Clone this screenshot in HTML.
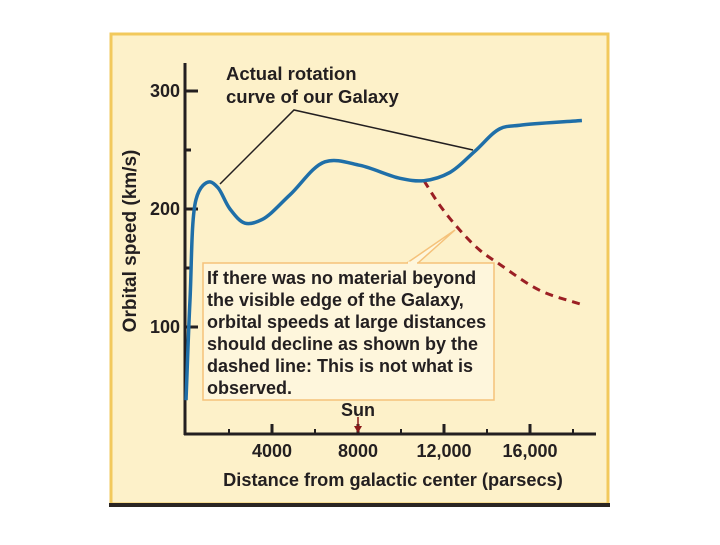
<!DOCTYPE html>
<html><head><meta charset="utf-8"><style>
body{margin:0;width:720px;height:540px;background:#fff;overflow:hidden;font-family:"Liberation Sans",sans-serif}
</style></head><body>
<svg width="720" height="540" viewBox="0 0 720 540">
<rect x="111" y="34" width="497" height="470" fill="#fdf1c9" stroke="#f2c95c" stroke-width="3"/>
<line x1="109" y1="505" x2="610" y2="505" stroke="#2a2522" stroke-width="4"/>
<g id="axes" stroke="#231f20" stroke-width="3" fill="none"></g>
<g id="labels" font-weight="bold" fill="#231f20" font-size="18"></g>
<g id="series"></g>
<g>
<polyline points="407,263 455,230 418,263" fill="#fef6dc" stroke="#f5c27a" stroke-width="1.5"/>
<rect x="203" y="263" width="291" height="137" fill="#fef6dc" stroke="#f5c27a" stroke-width="1.5"/>
<line x1="408" y1="263" x2="417" y2="263" stroke="#fef6dc" stroke-width="3"/>
<text font-weight="bold" font-size="18" fill="#231f20">
<tspan x="207" y="284">If there was no material beyond</tspan>
<tspan x="207" y="306">the visible edge of the Galaxy,</tspan>
<tspan x="207" y="328">orbital speeds at large distances</tspan>
<tspan x="207" y="350">should  decline as shown by the</tspan>
<tspan x="207" y="372">dashed line: This is not what is</tspan>
<tspan x="207" y="394">observed.</tspan></text>
</g>
<g>
<polyline points="220,184 294,110 473,150" fill="none" stroke="#231f20" stroke-width="1.5"/>
<text font-weight="bold" font-size="18.5" fill="#231f20"><tspan x="226" y="80">Actual rotation</tspan><tspan x="226" y="103">curve of our Galaxy</tspan></text>
</g>
<g>
<text x="358" y="416" text-anchor="middle" font-weight="bold" font-size="18" fill="#231f20">Sun</text>
<line x1="358" y1="417" x2="358" y2="430" stroke="#8b1a1a" stroke-width="1.5"/>
<polygon points="354,426 362,426 358,433" fill="#8b1a1a"/>
</g>
</svg>
<script>
const speedTicks=[100,200,300];
const speedMinorTicks=[150,250];
const distTicks=[4000,8000,12000,16000];
const distTickLabels=["4000","8000","12,000","16,000"];
const distMinorTicks=[2000,6000,10000,14000,18000];
const obsDist=[0,186,465,790,1116,1488,2046,2744,3534,4836,6464,8091,9951,11067,12276,13439,14601,15531,18414];
const obsSpeed=[38,123,208,220,223,218,200,188,191,212,240,237,226,224,231,249,268,271,275];
const keplerDist=[11067,11811,12741,13671,14601,16461,18414];
const keplerSpeed=[224,203,182,165,153,131,119];

const NS="http://www.w3.org/2000/svg";
const X=d=>186+d*86/4000;
const Y=v=>445-v*1.18;
function mk(tag,attrs,parent){const e=document.createElementNS(NS,tag);for(const k in attrs)e.setAttribute(k,attrs[k]);parent.appendChild(e);return e;}
const axes=document.getElementById('axes'),labels=document.getElementById('labels'),series=document.getElementById('series');

let a=mk('line',{x1:185,y1:63,x2:185,y2:435},axes);


a=mk('line',{x1:184,y1:434,x2:596,y2:434},axes);


speedTicks.forEach(v=>{
 const t=mk('line',{x1:185,y1:Y(v),x2:198,y2:Y(v)},axes);
 
 
 const l=mk('text',{x:180,y:Y(v)+6,'text-anchor':'end'},labels);l.textContent=v;
 
 
});
speedMinorTicks.forEach(v=>{
 const t=mk('line',{x1:185,y1:Y(v),x2:191,y2:Y(v)},axes);
 
 
});
distTicks.forEach((d,i)=>{
 const t=mk('line',{x1:X(d),y1:434,x2:X(d),y2:424},axes);
 
 
 const l=mk('text',{x:X(d),y:457,'text-anchor':'middle'},labels);l.textContent=distTickLabels[i];
 
 
});
distMinorTicks.forEach(d=>{
 const t=mk('line',{x1:X(d),y1:434,x2:X(d),y2:429,'stroke-width':2},axes);
 
 
});
let xt=mk('text',{x:393,y:486,'text-anchor':'middle','font-size':18.2},labels);xt.textContent='Distance from galactic center (parsecs)';


let yt=mk('text',{x:0,y:0,'text-anchor':'middle','font-size':19,transform:'translate(136,241) rotate(-90)'},labels);yt.textContent='Orbital speed (km/s)';



function smooth(ds,vs){
 const p=ds.map((d,i)=>[X(d),Y(vs[i])]);
 const dist=(a,b)=>Math.max(1e-3,Math.hypot(a[0]-b[0],a[1]-b[1]));
 let s=`M${p[0][0]},${p[0][1]}`;
 for(let i=0;i<p.length-1;i++){
  const p1=p[i],p2=p[i+1];
  const p0=i>0?p[i-1]:[2*p1[0]-p2[0],2*p1[1]-p2[1]];
  const p3=i+2<p.length?p[i+2]:[2*p2[0]-p1[0],2*p2[1]-p1[1]];
  const d1=Math.sqrt(dist(p0,p1)),d2=Math.sqrt(dist(p1,p2)),d3=Math.sqrt(dist(p2,p3));
  const c1=[0,1].map(j=>(d1*d1*p2[j]-d2*d2*p0[j]+(2*d1*d1+3*d1*d2+d2*d2)*p1[j])/(3*d1*(d1+d2)));
  const c2=[0,1].map(j=>(d3*d3*p1[j]-d2*d2*p3[j]+(2*d3*d3+3*d3*d2+d2*d2)*p2[j])/(3*d3*(d3+d2)));
  s+=` C${c1[0]},${c1[1]} ${c2[0]},${c2[1]} ${p2[0]},${p2[1]}`;
 }
 return s;
}
const k=mk('path',{d:smooth(keplerDist,keplerSpeed),fill:'none',stroke:'#9b1f24','stroke-width':3,'stroke-dasharray':'8 6'},series);


const o=mk('path',{d:smooth(obsDist,obsSpeed),fill:'none',stroke:'#1f6fa8','stroke-width':3.5},series);


</script>
</body></html>
